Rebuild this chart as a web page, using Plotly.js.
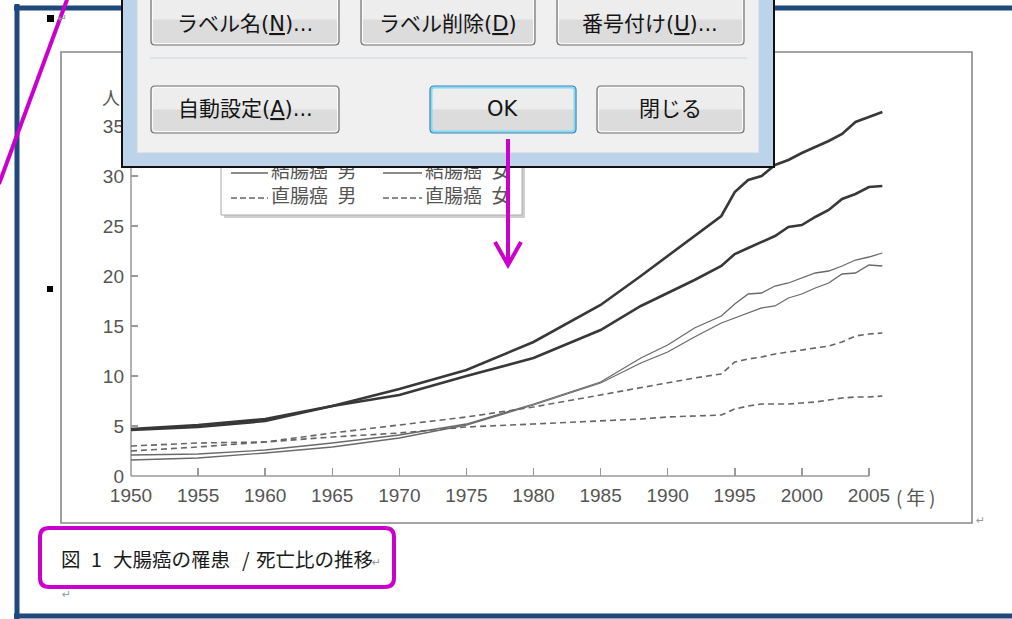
<!DOCTYPE html>
<html>
<head>
<meta charset="utf-8">
<script src="https://cdn.plot.ly/plotly-3.0.1.min.js"></script>
<style>html,body{margin:0;padding:0;background:#fff;}#chart{width:1012px;height:619px;}</style>
</head>
<body>
<div id="chart"></div>
<script>
// ---- data ----
const years = [1950,1955,1960,1965,1970,1975,1980,1985,1988,1990,1992,1994,1995,1996,1997,1998,1999,2000,2001,2002,2003,2004,2005,2006];
const colorectalMale   = [4.7,5.1,5.7,7.0,8.7,10.6,13.4,17.1,20.0,22.0,24.0,26.0,28.4,29.6,30.0,31.1,31.6,32.3,32.9,33.5,34.2,35.4,35.9,36.4];
const colorectalFemale = [4.6,4.9,5.5,7.0,8.1,10.0,11.8,14.6,17.0,18.3,19.6,21.0,22.2,22.8,23.4,24.0,24.9,25.1,25.9,26.6,27.7,28.2,28.9,29.0];
const colonMale        = [2.1,2.2,2.6,3.3,4.1,5.2,7.2,9.4,11.8,13.1,14.8,16.0,17.2,18.2,18.3,19.0,19.3,19.8,20.3,20.5,21.0,21.6,21.9,22.3];
const colonFemale      = [1.6,1.8,2.3,2.9,3.8,5.1,7.1,9.3,11.3,12.4,13.9,15.3,15.8,16.3,16.8,17.0,17.8,18.2,18.8,19.3,20.2,20.3,21.1,21.0];
const rectumMale       = [3.0,3.3,3.4,4.3,5.1,5.9,6.9,8.1,8.8,9.3,9.8,10.2,11.4,11.7,11.9,12.2,12.4,12.6,12.8,13.0,13.4,14.0,14.2,14.3];
const rectumFemale     = [2.5,2.9,3.4,3.9,4.3,4.9,5.2,5.5,5.7,5.9,6.0,6.1,6.7,7.0,7.2,7.2,7.2,7.3,7.4,7.6,7.8,7.9,7.9,8.0];
const xTickVals = [1950,1955,1960,1965,1970,1975,1980,1985,1990,1995,2000,2005];
const yTickVals = [0,5,10,15,20,25,30,35];
const legendLabels = ['結腸癌\u2002男','結腸癌\u2002女','直腸癌\u2002男','直腸癌\u2002女'];
const buttonLabels = ['ラベル名(<u>N</u>)...','ラベル削除(<u>D</u>)','番号付け(<u>U</u>)...','自動設定(<u>A</u>)...','OK','閉じる'];
const captionParts = ['図','1','大腸癌の罹患','/','死亡比の推移'];
const yUnit = '人';
const xUnit = '(\u2009年\u2009)';

// ---- geometry helpers (pixel -> paper) ----
const ML=131, MR=76, MT=76, MB=143, W=1012-ML-MR, H=619-MT-MB, BOT=619-MB;
const X = px => (px-ML)/W;
const Y = py => (BOT-py)/H;
const dataX = px => 1950 + (px-ML)/W*60;
const dataY = py => (BOT-py)/H*40;
function rect(x0,y0,x1,y1,o){return Object.assign({type:'rect',xref:'paper',yref:'paper',x0:X(x0),x1:X(x1),y0:Y(y1),y1:Y(y0)},o);}
function line(x0,y0,x1,y1,o){return Object.assign({type:'line',xref:'paper',yref:'paper',x0:X(x0),x1:X(x1),y0:Y(y0),y1:Y(y1)},o);}
function P(x,y){return X(x).toFixed(5)+','+Y(y).toFixed(5);}
function rr(x0,y0,x1,y1,r){
  return 'M'+P(x0+r,y0)+' L'+P(x1-r,y0)+' Q'+P(x1,y0)+' '+P(x1,y0+r)+' L'+P(x1,y1-r)+' Q'+P(x1,y1)+' '+P(x1-r,y1)+
         ' L'+P(x0+r,y1)+' Q'+P(x0,y1)+' '+P(x0,y1-r)+' L'+P(x0,y0+r)+' Q'+P(x0,y0)+' '+P(x0+r,y0)+' Z';
}
function pathShape(d,o){return Object.assign({type:'path',xref:'paper',yref:'paper',path:d},o);}

// ---- traces ----
const thick = {color:'#383838', width:2.6};
const thin  = {color:'#6a6a6a', width:1.3};
const dash  = {color:'#666666', width:1.6, dash:'6px,4px'};
const traces = [
  {x:years,y:colorectalMale,  name:'大腸癌 男',mode:'lines',line:thick},
  {x:years,y:colorectalFemale,name:'大腸癌 女',mode:'lines',line:thick},
  {x:years,y:colonMale,       name:'結腸癌 男',mode:'lines',line:thin},
  {x:years,y:colonFemale,     name:'結腸癌 女',mode:'lines',line:thin},
  {x:years,y:rectumMale,      name:'直腸癌 男',mode:'lines',line:dash},
  {x:years,y:rectumFemale,    name:'直腸癌 女',mode:'lines',line:dash},
  {x:[dataX(271),dataX(425),dataX(271),dataX(425)], y:[dataY(173),dataY(173),dataY(198),dataY(198)],
   text:legendLabels, mode:'text', textposition:'middle right', cliponaxis:false, hoverinfo:'skip',
   textfont:{family:'Noto Sans CJK JP', size:19, color:'#555'}}
];

// ---- shapes ----
const shapes = [];
shapes.push(line(17,4,17,619,{line:{color:'#1f497d',width:5},layer:'below'}));
shapes.push(line(14,8,1012,8,{line:{color:'#1f497d',width:5},layer:'below'}));
shapes.push(line(14,616,1012,616,{line:{color:'#1f497d',width:5},layer:'below'}));
shapes.push(rect(61,52,972,523,{line:{color:'#888',width:1.6},fillcolor:'rgba(0,0,0,0)',layer:'below'}));
shapes.push(line(131,476,869,476,{line:{color:'#999',width:1.5},layer:'below'}));
shapes.push(line(131,476,131,118,{line:{color:'#999',width:1.5},layer:'below'}));
// legend box
shapes.push(rect(224,140,525,218,{line:{width:0},fillcolor:'#cfcfcf',layer:'below'}));
shapes.push(rect(221,137,522,215,{line:{color:'#aaa',width:1},fillcolor:'#fff',layer:'below'}));
shapes.push(line(231,173,268,173,{line:{color:'#666',width:1.3},layer:'below'}));
shapes.push(line(383,173,422,173,{line:{color:'#666',width:1.3},layer:'below'}));
shapes.push(line(231,198,268,198,{line:{color:'#666',width:1.3,dash:'6px,3px'},layer:'below'}));
shapes.push(line(383,198,422,198,{line:{color:'#666',width:1.3,dash:'6px,3px'},layer:'below'}));
// dialog
shapes.push(rect(122,-6,774,167,{line:{color:'#111',width:2},fillcolor:'#bcd3ea',layer:'above'}));
shapes.push(rect(137,-6,759,153,{line:{color:'#c5d6e6',width:1},fillcolor:'#f0f0f0',layer:'above'}));
shapes.push(line(150,58,747,58,{line:{color:'#d6dee5',width:1.5},layer:'above'}));
const btns = [[151,-6,339,45],[361,-6,535,45],[557,-6,744,45],[151,86,339,133],[430,86,576,133],[597,86,744,133]];
btns.forEach((b,i)=>{
  const [x0,y0,x1,y1]=b;
  shapes.push(pathShape(rr(x0,y0,x1,y1,4),{fillcolor:'#ededed',line:{width:0},layer:'above'}));
  shapes.push(rect(x0+1,(y0+y1)/2,x1-1,y1-2,{fillcolor:'#dcdcdc',line:{width:0},layer:'above'}));
  shapes.push(pathShape(rr(x0+1.5,y0+1.5,x1-1.5,y1-1.5,3),{fillcolor:'rgba(0,0,0,0)',line:{color:i===4?'#7fdcf8':'#fbfbfb',width:i===4?2:1},layer:'above'}));
  shapes.push(pathShape(rr(x0,y0,x1,y1,4),{fillcolor:'rgba(0,0,0,0)',line:{color:i===4?'#3c7fb1':'#707070',width:1.2},layer:'above'}));
});
// magenta marks
const MAG = '#cc00cc';
shapes.push(line(68,-3,-1,184,{line:{color:MAG,width:4},layer:'above'}));
shapes.push(line(508,139,508,262,{line:{color:MAG,width:4},layer:'above'}));
shapes.push(pathShape('M'+P(495,242)+' L'+P(508,265)+' L'+P(521,242),{line:{color:MAG,width:4},fillcolor:'rgba(0,0,0,0)',layer:'above'}));
shapes.push(pathShape(rr(40,528,394,587,9),{line:{color:MAG,width:4},fillcolor:'rgba(0,0,0,0)',layer:'above'}));
// word paragraph marks
shapes.push(rect(47,15,54,22,{line:{width:0},fillcolor:'#000',layer:'above'}));
shapes.push(rect(47,286,53,292,{line:{width:0},fillcolor:'#000',layer:'above'}));

// ---- annotations ----
const ann = [];
const btnCenters = [[245,24],[448,24],[650,24],[245,109],[503,109],[670,109]];
buttonLabels.forEach((t,i)=>{
  ann.push({xref:'paper',yref:'paper',x:X(btnCenters[i][0]),y:Y(btnCenters[i][1]),text:t,showarrow:false,
    xanchor:'center',yanchor:'middle',font:{family:'DejaVu Sans, Noto Sans CJK JP',size:21,color:'#151515'}});
});
ann.push({xref:'paper',yref:'paper',x:X(111),y:Y(97),text:yUnit,showarrow:false,xanchor:'center',yanchor:'middle',
  font:{family:'Noto Sans CJK JP',size:18,color:'#555'}});
ann.push({xref:'paper',yref:'paper',x:X(894),y:Y(496),text:xUnit,showarrow:false,xanchor:'left',yanchor:'middle',
  font:{family:'Noto Sans CJK JP',size:19,color:'#555'}});
const capX = [59,89,111,240,254];
captionParts.forEach((t,i)=>{
  ann.push({xref:'paper',yref:'paper',x:X(capX[i]),y:Y(558),text:t,showarrow:false,xanchor:'left',yanchor:'middle',
    font:{family:'Noto Sans CJK JP',size:19.5,color:'#1a1a1a'}});
});
[[370,562],[56,19],[974,520],[60,594]].forEach(p=>{
  ann.push({xref:'paper',yref:'paper',x:X(p[0]),y:Y(p[1]),text:'↵',showarrow:false,xanchor:'left',yanchor:'middle',
    font:{family:'DejaVu Sans',size:11,color:'#999'}});
});

const tickFont = {family:'Liberation Sans, Arial', size:19, color:'#555'};
const layout = {
  width:1012, height:619,
  margin:{l:ML, r:MR, t:MT, b:MB, pad:0},
  paper_bgcolor:'#ffffff', plot_bgcolor:'rgba(0,0,0,0)',
  showlegend:false,
  xaxis:{range:[1950,2010], tickvals:xTickVals, ticks:'inside', ticklen:8, tickwidth:1.5, tickcolor:'#999',
    showline:false, showgrid:false, zeroline:false, tickfont:tickFont, ticklabelstandoff:6, fixedrange:true},
  yaxis:{range:[0,40], tickvals:yTickVals, ticks:'inside', ticklen:7, tickwidth:1.5, tickcolor:'#999',
    showline:false, showgrid:false, zeroline:false, tickfont:tickFont, ticklabelstandoff:6, fixedrange:true},
  shapes:shapes,
  annotations:ann
};
Plotly.newPlot('chart', traces, layout, {displayModeBar:false, staticPlot:true});
</script>
</body>
</html>
